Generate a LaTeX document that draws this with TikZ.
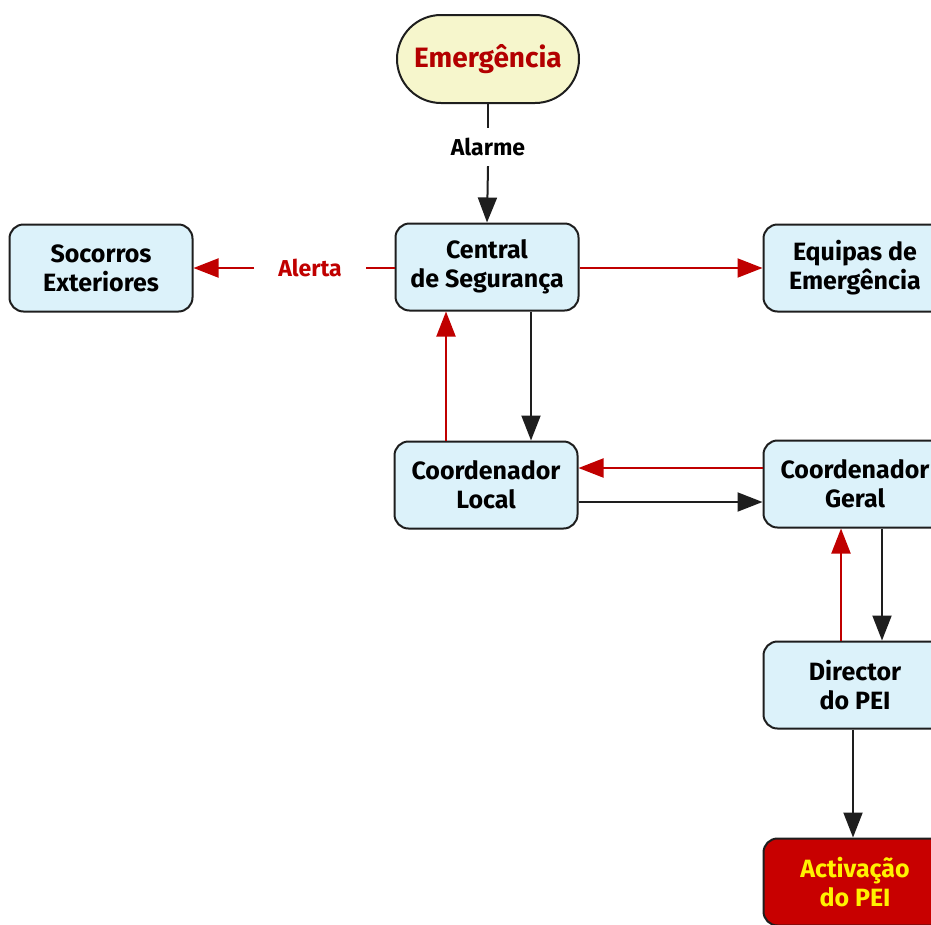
\documentclass[tikz,border=0pt]{standalone}
\usepackage{fontspec}
\setmainfont{Fira Sans}
\usetikzlibrary{arrows.meta}
\definecolor{boxfill}{HTML}{DCF2FA}
\definecolor{emfill}{HTML}{F6F6CC}
\definecolor{emred}{HTML}{B30000}
\definecolor{arrred}{HTML}{C00000}
\definecolor{actfill}{HTML}{C80000}
\definecolor{acttext}{HTML}{FFF200}
\definecolor{edge}{HTML}{1E1E1E}
\begin{document}
\begin{tikzpicture}[x=1pt,y=-1pt,
  font=\bfseries\fontsize{25}{29}\selectfont,
  box/.style={draw=edge, line width=2pt, rounded corners=14pt, fill=boxfill,
    minimum width=183pt, minimum height=87pt, align=center, inner sep=0pt},
  emnode/.style={draw=edge, line width=2pt, rounded corners=44pt, fill=emfill,
    minimum width=182pt, minimum height=88pt, align=center, inner sep=0pt, text=emred,
    font=\bfseries\fontsize{28}{29}\selectfont},
  actnode/.style={box, fill=actfill, text=acttext},
  redarr/.style={draw=arrred, line width=2pt, -{Triangle[length=25pt,width=19pt]}},
  blkarr/.style={draw=edge, line width=2pt, -{Triangle[length=25pt,width=19pt]}},
  redline/.style={draw=arrred, line width=2pt},
  blkline/.style={draw=edge, line width=2pt},
  lbl/.style={inner sep=0pt, font=\bfseries\fontsize{23}{24}\selectfont}
]
\useasboundingbox (0,0) rectangle (931,924);
\fill[white] (0,0) rectangle (931,924);

\node[emnode] (em) at (488,59) {Emergência};
\node[box] (central) at (487,267) {Central\\de Segurança};
\node[box] (soc) at (101,268) {Socorros\\Exteriores};
\node[box] (equ) at (855,268) {Equipas de\\Emergência};
\node[box] (local) at (486,485) {Coordenador\\Local};
\node[box] (geral) at (855,484) {Coordenador\\Geral};
\node[box] (dir) at (855,685) {Director\\do PEI};
\node[actnode] (act) at (855,882) {Activação\\do PEI};

\node[lbl, inner ysep=10pt] (alarme) at (488,147) {Alarme};
\node[lbl, text=arrred, inner xsep=24pt] (alerta) at (310,268) {Alerta};

% Emergencia -> Central
\draw[blkline] (em.south) -- (alarme.north);
\draw[blkarr] (alarme.south) -- (central.north);

% Central -> Socorros (Alerta)
\draw[redline] (central.west |- alerta.east) -- (alerta.east);
\draw[redarr] (alerta.west) -- (soc.east |- alerta.west);

% Central -> Equipas
\draw[redarr] (central.east |- equ.west) -- (equ.west);

% Central <-> Local
\draw[blkarr] ([xshift=44pt]central.south) -- ([xshift=44pt]central.south |- local.north);
\draw[redarr] ([xshift=-41pt]central.south |- local.north) -- ([xshift=-41pt]central.south);

% Local <-> Geral
\draw[redarr] ([yshift=16pt]geral.west) -- ([yshift=16pt]geral.west -| local.east);
\draw[blkarr] ([yshift=-18pt]geral.west -| local.east) -- ([yshift=-18pt]geral.west);

% Geral <-> Director
\draw[redarr] ([xshift=-14pt]dir.north) -- ([xshift=-14pt]geral.south);
\draw[blkarr] ([xshift=27pt]geral.south) -- ([xshift=27pt]dir.north);

% Director -> Activacao
\draw[blkarr] ([xshift=-2pt]dir.south) -- ([xshift=-2pt]act.north);
\end{tikzpicture}
\end{document}
